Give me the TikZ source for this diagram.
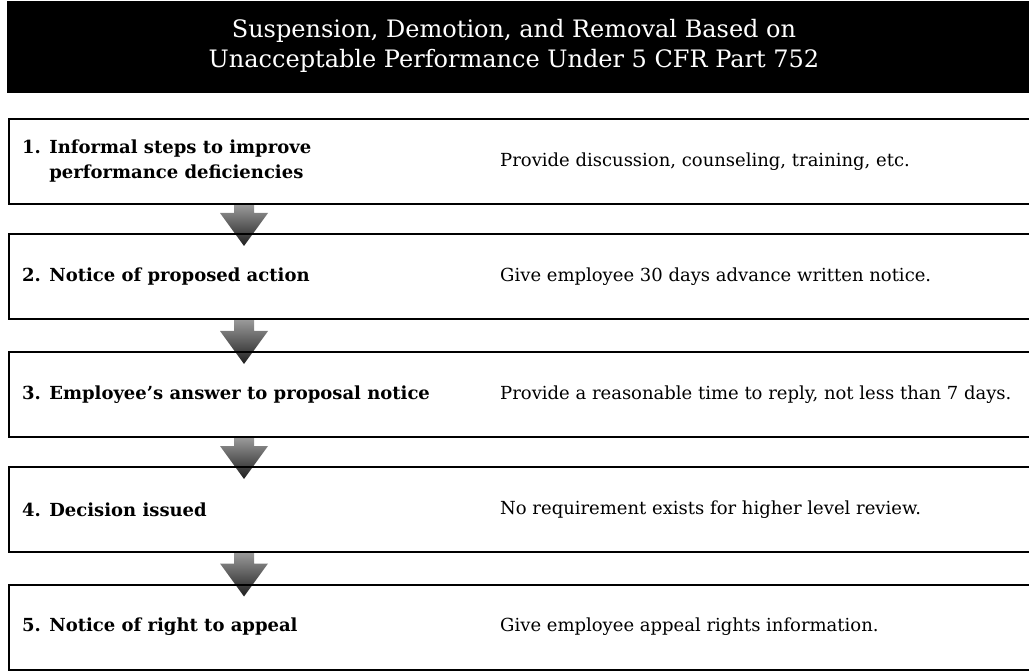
\documentclass[tikz,border=0pt]{standalone}
\usepackage{fontspec}
\setmainfont{DejaVu Serif}
\usetikzlibrary{calc}
\pgfdeclarelayer{bg}
\pgfsetlayers{bg,main}

\newcommand{\steparrow}[2]{%
	\shade[arrowfill] ($(#1.south -| ax)+(-10,0)$) -- ($(#1.south -| ax)+(10,0)$)
		-- ($(#2.north -| ax)+(10,-20)$) -- ($(#2.north -| ax)+(24,-20)$)
		-- ($(#2.north -| ax)+(0,13)$) -- ($(#2.north -| ax)+(-24,-20)$)
		-- ($(#2.north -| ax)+(-10,-20)$) -- cycle;}

\begin{document}
\begin{tikzpicture}[x=1pt,y=-1pt,
	titlebar/.style={fill=black, minimum width=1040pt, minimum height=92pt, anchor=north west, inner sep=0pt},
	titletext/.style={text=white, align=center, font=\fontsize{24}{30}\selectfont},
	stepbox/.style={draw, line width=2pt, minimum width=1040pt, minimum height=85pt, anchor=west, inner sep=0pt},
	steptext/.style={anchor=west, align=left, inner sep=0pt, font=\fontsize{18}{25}\selectfont\bfseries},
	notetext/.style={anchor=west, inner sep=0pt, font=\fontsize{18}{22}\selectfont},
	arrowfill/.style={top color=black!40, bottom color=black!88}]

	\useasboundingbox (0,0) rectangle (1029,671);
	\clip (0,0) rectangle (1029,671);

	\node[titlebar] (bar) at (7,1) {};
	\node[titletext] (title) at (514,46) {Suspension, Demotion, and Removal Based on\\Unacceptable Performance Under 5 CFR Part 752};

	\coordinate (ax) at (244,0);

	\node[stepbox] (s1) at (8,161.5) {};
	\node[stepbox] (s2) at (8,276.5) {};
	\node[stepbox] (s3) at (8,394.5) {};
	\node[stepbox] (s4) at (8,509.5) {};
	\node[stepbox] (s5) at (8,627) {};

	\node[steptext] (l1) at (22,161.5) {1. Informal steps to improve\\\phantom{1. }performance deficiencies};
	\node[steptext] (l2) at (22,276.5) {2. Notice of proposed action};
	\node[steptext] (l3) at (22,394.5) {3. Employee's answer to proposal notice};
	\node[steptext] (l4) at (22,509.5) {4. Decision issued};
	\node[steptext] (l5) at (22,627) {5. Notice of right to appeal};

	\node[notetext] (r1) at (500,161.5) {Provide discussion, counseling, training, etc.};
	\node[notetext] (r2) at (500,276.5) {Give employee 30 days advance written notice.};
	\node[notetext] (r3) at (500,394.5) {Provide a reasonable time to reply, not less than 7 days.};
	\node[notetext] (r4) at (500,509.5) {No requirement exists for higher level review.};
	\node[notetext] (r5) at (500,627) {Give employee appeal rights information.};

	\begin{pgfonlayer}{bg}
		\steparrow{s1}{s2}
		\steparrow{s2}{s3}
		\steparrow{s3}{s4}
		\steparrow{s4}{s5}
	\end{pgfonlayer}
\end{tikzpicture}
\end{document}
